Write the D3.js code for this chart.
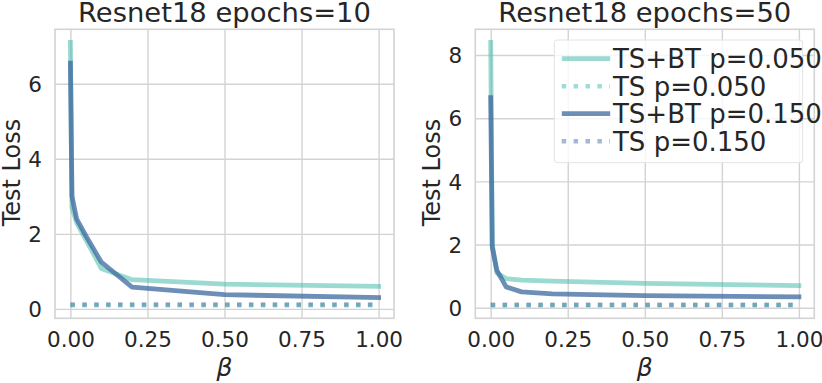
<!DOCTYPE html>
<html>
<head>
<meta charset="utf-8">
<script src="https://cdn.jsdelivr.net/npm/d3@7"></script>
<style>
  body { margin: 0; background: #fff; }
  text { font-family: "DejaVu Sans", sans-serif; fill: #262626; }
</style>
</head>
<body>
<div class="canvas"></div>
<script>
// beta values shared by every series
const beta = [0, 0.005, 0.02, 0.05, 0.1, 0.2, 0.5, 1.0];

// epochs=10
const e10_btLow = [7.1, 2.7, 2.3, 1.85, 1.08, 0.78, 0.66, 0.6];
const e10_tsLow = [0.1, 0.1, 0.1, 0.1, 0.1, 0.1, 0.1, 0.1];
const e10_btHigh = [6.55, 3.0, 2.4, 1.95, 1.25, 0.58, 0.38, 0.3];
const e10_tsHigh = [0.12, 0.12, 0.12, 0.12, 0.12, 0.12, 0.12, 0.12];

// epochs=50
const e50_btLow = [8.4, 2.0, 1.1, 0.92, 0.87, 0.84, 0.77, 0.7];
const e50_tsLow = [0.08, 0.08, 0.08, 0.08, 0.08, 0.08, 0.08, 0.08];
const e50_btHigh = [6.65, 1.92, 1.18, 0.66, 0.5, 0.44, 0.38, 0.34];
const e50_tsHigh = [0.09, 0.09, 0.09, 0.09, 0.09, 0.09, 0.09, 0.09];

const xTicks = [0, 0.25, 0.5, 0.75, 1.0];
const yTicks10 = [0, 2, 4, 6];
const yTicks50 = [0, 2, 4, 6, 8];
const titles = ['Resnet18 epochs=10', 'Resnet18 epochs=50'];
const legendLabels = ['TS+BT p=0.050', 'TS p=0.050', 'TS+BT p=0.150', 'TS p=0.150'];

const teal = '#41b9a9', blue = '#3f6aa0';
const styles = [
    { color: teal, dotted: false, opacity: 0.53 },
    { color: teal, dotted: true, opacity: 0.5 },
    { color: blue, dotted: false, opacity: 0.76 },
    { color: blue, dotted: true, opacity: 0.48 }
];

const W = 822, H = 383;
const svg = d3.select('.canvas').append('svg')
    .attr('width', W)
    .attr('height', H);

const dims = { top: 29.3, bottom: 318.3, width: 339 };

const drawPanel = (left, title, series, yTicks, showLegend) => {
    const h = dims.bottom - dims.top;
    const g = svg.append('g').attr('transform', `translate(${left},${dims.top})`);

    // matplotlib style 5% margins
    const xExt = d3.extent(beta);
    const xPad = (xExt[1] - xExt[0]) * 0.05;
    const x = d3.scaleLinear().domain([xExt[0] - xPad, xExt[1] + xPad]).range([0, dims.width]);
    const yExt = d3.extent(series.flat());
    const yPad = (yExt[1] - yExt[0]) * 0.05;
    const y = d3.scaleLinear().domain([yExt[0] - yPad, yExt[1] + yPad]).range([h, 0]);

    // grid
    g.append('g')
        .attr('transform', `translate(0,${h})`)
        .call(d3.axisBottom(x).tickValues(xTicks).tickSize(-h).tickFormat(''))
        .call(a => a.select('.domain').remove())
        .selectAll('line').attr('stroke', '#d3d3d3').attr('stroke-width', 1.4);
    g.append('g')
        .call(d3.axisLeft(y).tickValues(yTicks).tickSize(-dims.width).tickFormat(''))
        .call(a => a.select('.domain').remove())
        .selectAll('line').attr('stroke', '#d3d3d3').attr('stroke-width', 1.4);

    // frame
    g.append('rect')
        .attr('width', dims.width).attr('height', h)
        .attr('fill', 'none').attr('stroke', '#d3d3d3').attr('stroke-width', 1.6);

    // tick labels
    const xa = g.append('g')
        .attr('transform', `translate(0,${h})`)
        .call(d3.axisBottom(x).tickValues(xTicks).tickSize(0).tickFormat(d3.format('.2f')));
    xa.select('.domain').remove();
    xa.selectAll('text').attr('y', 29).attr('dy', null)
        .style('font-size', '21.5px').attr('fill', '#262626');

    const ya = g.append('g')
        .call(d3.axisLeft(y).tickValues(yTicks).tickSize(0).tickPadding(13));
    ya.select('.domain').remove();
    ya.selectAll('text').style('font-size', '21.5px').attr('fill', '#262626').attr('dy', '0.36em');

    // lines
    const line = d3.line()
        .x((d, i) => x(beta[i]))
        .y(d => y(d));

    series.forEach((s, i) => {
        const st = styles[i];
        g.append('path')
            .datum(s)
            .attr('d', line)
            .attr('fill', 'none')
            .attr('stroke', st.color)
            .attr('stroke-opacity', st.opacity)
            .attr('stroke-width', st.dotted ? 4.5 : 4.8)
            .attr('stroke-dasharray', st.dotted ? '4.5 7.4' : null)
            .attr('stroke-linejoin', 'round')
            .attr('stroke-linecap', st.dotted ? 'butt' : 'square');
    });

    // titles and axis labels
    svg.append('text')
        .attr('x', left + dims.width / 2).attr('y', 22)
        .attr('text-anchor', 'middle')
        .style('font-size', '27.4px')
        .text(title);

    svg.append('text')
        .attr('x', left + x(0.5)).attr('y', 376)
        .attr('text-anchor', 'middle')
        .style('font-size', '25px').style('font-style', 'italic')
        .text('β');

    svg.append('text')
        .attr('transform', `translate(${left - 35},172.5) rotate(-90)`)
        .attr('text-anchor', 'middle')
        .style('font-size', '24px')
        .text('Test Loss');

    if (showLegend) {
        const lg = svg.append('g').attr('transform', 'translate(554.3,40)');
        lg.append('rect')
            .attr('width', 248.4).attr('height', 122.7)
            .attr('rx', 3)
            .attr('fill', '#fff').attr('fill-opacity', 0.8)
            .attr('stroke', '#e3e3e3').attr('stroke-width', 1);
        legendLabels.forEach((lab, i) => {
            const st = styles[i];
            const cy = 18.7 + i * 27.5;
            lg.append('line')
                .attr('x1', st.dotted ? 7.4 : 9.9).attr('x2', st.dotted ? 55.7 : 53.5)
                .attr('y1', cy).attr('y2', cy)
                .attr('stroke', st.color)
                .attr('stroke-opacity', st.opacity)
                .attr('stroke-width', st.dotted ? 4.5 : 4.8)
                .attr('stroke-dasharray', st.dotted ? '4.5 7.4' : null)
                .attr('stroke-linecap', st.dotted ? 'butt' : 'square');
            lg.append('text')
                .attr('x', 58.7).attr('y', cy + 9.4)
                .style('font-size', '26px')
                .text(lab);
        });
    }
};

drawPanel(55, titles[0], [e10_btLow, e10_tsLow, e10_btHigh, e10_tsHigh], yTicks10, false);
drawPanel(475.3, titles[1], [e50_btLow, e50_tsLow, e50_btHigh, e50_tsHigh], yTicks50, true);
</script>
</body>
</html>
